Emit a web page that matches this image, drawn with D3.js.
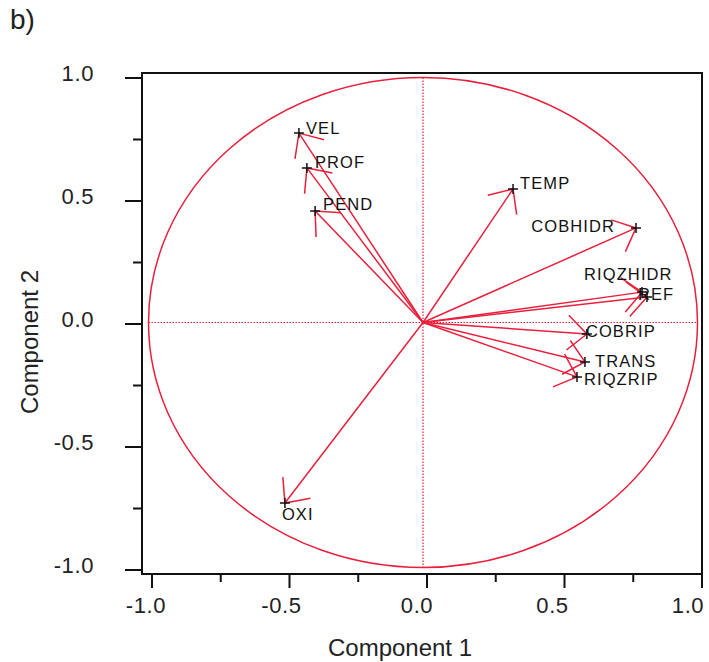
<!DOCTYPE html>
<html><head><meta charset="utf-8">
<script src="https://cdn.jsdelivr.net/npm/d3@7"></script>
<style>body{margin:0;background:#fff}svg{display:block;font-family:"Liberation Sans",Arial,sans-serif}</style>
</head><body>
<svg id="c" width="709" height="662"></svg>
<script>
// ---- data ----
const variables = ["VEL","PROF","PEND","TEMP","COBHIDR","RIQZHIDR","REF","COBRIP","TRANS","RIQZRIP","OXI"];
const comp1 = [-0.452,-0.423,-0.393,0.328,0.776,0.798,0.816,0.597,0.590,0.561,-0.503];
const comp2 = [0.773,0.631,0.455,0.545,0.386,0.124,0.104,-0.047,-0.161,-0.222,-0.737];
const majorTicks = [-1.0,-0.5,0.0,0.5,1.0];
const minorTicks = [-0.75,-0.25,0.25,0.75];
const tickLabels = ["-1.0","-0.5","0.0","0.5","1.0"];
// label placement (layout): [dx, dy, anchor]
const labelPlace = [[7,1,"start"],[8,0,"start"],[8,-1,"start"],[7,0,"start"],[-21,4,"end"],
  [-58,-12,"start"],[-9,3,"start"],[-1,3,"start"],[10,5,"start"],[7,8,"start"],[-3,17,"start"]];

const red = "#e8203c";
const svg = d3.select("#c");

// data scales
const xD = d3.scaleLinear().domain([-1,1]).range([148.5,697.5]);
const yD = d3.scaleLinear().domain([-1,1]).range([567.5,77.5]);
// axis tick scales
const xT = d3.scaleLinear().domain([-1,1]).range([152,702]);
const xL = d3.scaleLinear().domain([-1,1]).range([146,688]);
const yT = d3.scaleLinear().domain([-1,1]).range([570,78]);

const box = {l:142, t:73, r:702, b:574};

// title
svg.append("text").attr("x",10).attr("y",29).attr("font-size",28).attr("fill","#222").text("b)");

// unit circle
svg.append("ellipse").attr("cx",xD(0)).attr("cy",yD(0))
  .attr("rx",xD(1)-xD(0)).attr("ry",yD(0)-yD(1))
  .attr("fill","none").attr("stroke",red).attr("stroke-width",1.5);

// dotted reference lines
svg.append("line").attr("x1",xD(-1)).attr("x2",xD(1)).attr("y1",yD(0)).attr("y2",yD(0))
  .attr("stroke",red).attr("stroke-width",1.2).attr("stroke-dasharray","1.5,1.5");
svg.append("line").attr("x1",xD(0)).attr("x2",xD(0)).attr("y1",yD(1)).attr("y2",yD(-1))
  .attr("stroke",red).attr("stroke-width",1.2).attr("stroke-dasharray","1.5,1.5");

// box
svg.append("rect").attr("x",box.l).attr("y",box.t).attr("width",box.r-box.l).attr("height",box.b-box.t)
  .attr("fill","none").attr("stroke","#111").attr("stroke-width",2);

// y ticks
const gy = svg.append("g");
gy.selectAll(".ymaj").data(majorTicks).join("line")
  .attr("x1",125).attr("x2",box.l).attr("y1",d=>yT(d)).attr("y2",d=>yT(d))
  .attr("stroke","#111").attr("stroke-width",2);
gy.selectAll(".ymin").data(minorTicks).join("line").attr("class","ymin")
  .attr("x1",133).attr("x2",box.l).attr("y1",d=>yT(d)).attr("y2",d=>yT(d))
  .attr("stroke","#111").attr("stroke-width",2);
gy.selectAll("text").data(majorTicks).join("text")
  .attr("x",94).attr("y",d=>yT(d)-5).attr("dy","0.35em").attr("text-anchor","end")
  .attr("font-size",22).attr("letter-spacing",0.6).attr("fill","#222")
  .text((d,i)=>tickLabels[i]);

// x ticks
const gx = svg.append("g");
gx.selectAll(".xmaj").data(majorTicks).join("line")
  .attr("x1",d=>xT(d)).attr("x2",d=>xT(d)).attr("y1",box.b).attr("y2",588)
  .attr("stroke","#111").attr("stroke-width",2);
gx.selectAll(".xmin").data(minorTicks).join("line").attr("class","xmin")
  .attr("x1",d=>xT(d)).attr("x2",d=>xT(d)).attr("y1",box.b).attr("y2",582)
  .attr("stroke","#111").attr("stroke-width",2);
gx.selectAll("text").data(majorTicks).join("text")
  .attr("x",d=>xL(d)).attr("y",613).attr("text-anchor","middle")
  .attr("font-size",22).attr("letter-spacing",0.6).attr("fill","#222")
  .text((d,i)=>tickLabels[i]);

// axis titles
svg.append("text").attr("x",400).attr("y",656).attr("text-anchor","middle")
  .attr("font-size",24).attr("fill","#222").text("Component 1");
svg.append("text").attr("transform","translate(38,342) rotate(-90)").attr("text-anchor","middle")
  .attr("font-size",24).attr("fill","#222").text("Component 2");

// arrows
const pts = variables.map((v,i)=>({name:v, x:comp1[i], y:comp2[i], lp:labelPlace[i]}));
const x0 = xD(0), y0 = yD(0);
const armLen = 26, half = 42*Math.PI/180;
const ga = svg.append("g").attr("stroke",red).attr("stroke-width",1.5).attr("fill","none");
pts.forEach(p=>{
  const tx = xD(p.x), ty = yD(p.y);
  ga.append("line").attr("x1",x0).attr("y1",y0).attr("x2",tx).attr("y2",ty);
  const back = Math.atan2(y0-ty, x0-tx);
  const a1 = back+half, a2 = back-half;
  ga.append("path").attr("d",
    `M${tx+armLen*Math.cos(a1)},${ty+armLen*Math.sin(a1)}L${tx},${ty}L${tx+armLen*Math.cos(a2)},${ty+armLen*Math.sin(a2)}`);
});

// point markers and labels
const gp = svg.append("g");
pts.forEach(p=>{
  const tx = xD(p.x), ty = yD(p.y);
  gp.append("path").attr("d",`M${tx-5},${ty}H${tx+5}M${tx},${ty-5}V${ty+5}`)
    .attr("stroke","#111").attr("stroke-width",1.5);
  gp.append("text").attr("x",tx+p.lp[0]).attr("y",ty+p.lp[1]).attr("text-anchor",p.lp[2])
    .attr("font-size",16.5).attr("letter-spacing",1.1).attr("fill","#111").text(p.name);
});
</script>
</body></html>
